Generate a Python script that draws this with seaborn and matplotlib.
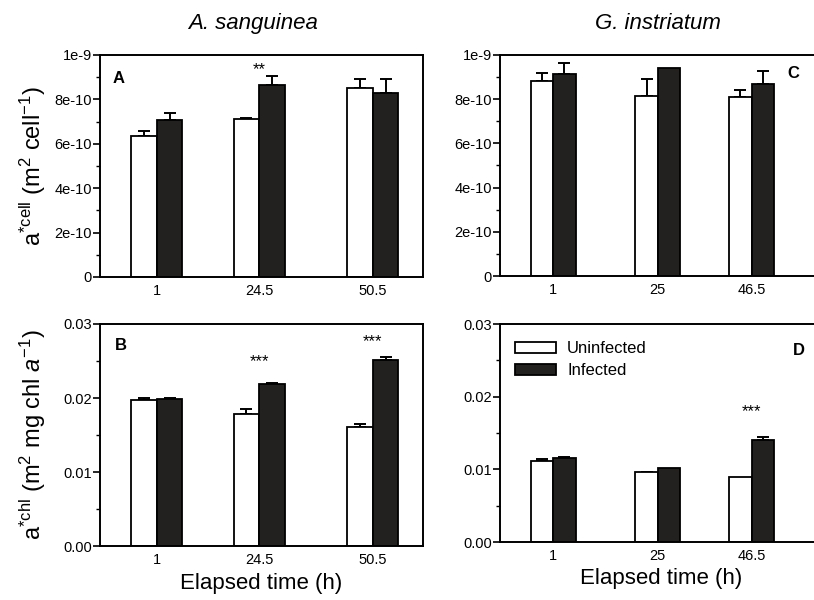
import matplotlib
matplotlib.use("Agg")
import numpy as np
import pandas as pd
import matplotlib.pyplot as plt
import seaborn as sns
from matplotlib.ticker import MultipleLocator, FixedLocator, FixedFormatter

# ---------------- data ----------------
groups = ["Uninfected", "Infected"]
times_as = [1, 24.5, 50.5]
times_gi = [1, 25, 46.5]
xlabels_as = ["1", "24.5", "50.5"]
xlabels_gi = ["1", "25", "46.5"]

# a*cell (m2 cell-1)
cell_as_uninf = [6.36e-10, 7.11e-10, 8.53e-10]
cell_as_inf = [7.05e-10, 8.63e-10, 8.30e-10]
cell_as_uninf_err = [0.23e-10, 0.06e-10, 0.39e-10]
cell_as_inf_err = [0.32e-10, 0.42e-10, 0.60e-10]
cell_gi_uninf = [8.84e-10, 8.15e-10, 8.09e-10]
cell_gi_inf = [9.14e-10, 9.41e-10, 8.69e-10]
cell_gi_uninf_err = [0.33e-10, 0.77e-10, 0.33e-10]
cell_gi_inf_err = [0.48e-10, 0.0, 0.59e-10]

# a*chl (m2 mg chl a-1)
chl_as_uninf = [0.0197, 0.0179, 0.0161]
chl_as_inf = [0.0198, 0.0219, 0.0251]
chl_as_uninf_err = [0.0003, 0.0006, 0.00045]
chl_as_inf_err = [0.0002, 0.0001, 0.0005]
chl_gi_uninf = [0.0112, 0.0096, 0.0089]
chl_gi_inf = [0.0115, 0.0102, 0.0140]
chl_gi_uninf_err = [0.0002, 0.0001, 0.0]
chl_gi_inf_err = [0.0002, 0.0, 0.00045]

# significance marks (time, text, y position)
sig_A = [(24.5, "**", 9.35e-10)]
sig_B = [(24.5, "***", 0.0249), (50.5, "***", 0.0276)]
sig_C = []
sig_D = [(46.5, "***", 0.0180)]

cell_ticks = [0, 2e-10, 4e-10, 6e-10, 8e-10, 1e-9]
cell_ticklabels = ["0", "2e-10", "4e-10", "6e-10", "8e-10", "1e-9"]
chl_ticks = [0, 0.01, 0.02, 0.03]
chl_ticklabels = ["0.00", "0.01", "0.02", "0.03"]

titles = ["A. sanguinea", "G. instriatum"]

# ---------------- style ----------------
sns.set_style("ticks")
plt.rcParams["font.family"] = ["Liberation Sans", "DejaVu Sans"]
plt.rcParams["mathtext.fontset"] = "custom"
plt.rcParams["mathtext.rm"] = "Liberation Sans"
plt.rcParams["mathtext.it"] = "Liberation Sans:italic"
plt.rcParams["axes.linewidth"] = 1.4
for k in ["text.color", "axes.labelcolor", "xtick.color", "ytick.color",
          "axes.edgecolor", "axes.titlecolor"]:
    plt.rcParams[k] = "black"

BLACK = "#231f20"
palette = {"Uninfected": "white", "Infected": BLACK}

fig = plt.figure(figsize=(8.14, 6.00), dpi=100)
W, H = 814, 600


def add_ax(left, top, right, bottom):
    return fig.add_axes([left / W, 1 - bottom / H, (right - left) / W, (bottom - top) / H])


axA = add_ax(100, 55, 423, 277)
axC = add_ax(500, 55, 823, 276)
axB = add_ax(100, 324, 423, 546)
axD = add_ax(500, 324, 823, 542)


def panel(ax, times, uninf, inf, uerr, ierr, width, xlim, ylim, ticks, ticklabels,
          minor, letter, letter_pos, letter_ha, sigs, xlabels):
    df = pd.DataFrame({
        "time": list(times) * 2,
        "group": [groups[0]] * len(times) + [groups[1]] * len(times),
        "value": list(uninf) + list(inf),
    })
    sns.barplot(data=df, x="time", y="value", hue="group", hue_order=groups,
                palette=palette, native_scale=True, width=width, errorbar=None,
                edgecolor="black", linewidth=1.3, legend=False, ax=ax, zorder=2)
    for cont, errs in zip(ax.containers, [uerr, ierr]):
        bars = sorted(cont.patches, key=lambda b: b.get_x())
        for bar, e in zip(bars, errs):
            if e <= 0:
                continue
            cx = bar.get_x() + bar.get_width() / 2
            ax.errorbar(cx, bar.get_height(), yerr=[[0], [e]], fmt="none",
                        ecolor="black", elinewidth=1.4, capsize=4, capthick=1.4,
                        zorder=1)
    ax.set_xlim(*xlim)
    ax.set_ylim(*ylim)
    ax.xaxis.set_major_locator(FixedLocator(times))
    ax.xaxis.set_major_formatter(FixedFormatter(xlabels))
    ax.yaxis.set_major_locator(FixedLocator(ticks))
    ax.yaxis.set_major_formatter(FixedFormatter(ticklabels))
    ax.yaxis.set_minor_locator(MultipleLocator(minor))
    ax.tick_params(axis="x", which="both", length=0, pad=5, labelsize=10.5, colors="black")
    ax.tick_params(axis="y", which="major", direction="out", length=5, width=1.2,
                   pad=1, labelsize=10.5, colors="black")
    ax.tick_params(axis="y", which="minor", direction="out", length=3, width=1.0)
    for s in ax.spines.values():
        s.set_visible(True)
        s.set_linewidth(1.4)
        s.set_color("black")
    ax.set_xlabel("")
    ax.set_ylabel("")
    ax.text(letter_pos[0], letter_pos[1], letter, transform=ax.transAxes,
            ha=letter_ha, va="top", fontsize=12, fontweight="bold")
    for t, s, y in sigs:
        ax.text(t, y, s, ha="center", va="center", fontsize=12)


panel(axA, times_as, cell_as_uninf, cell_as_inf, cell_as_uninf_err, cell_as_inf_err,
      0.50, (-12, 62), (0, 1e-9), cell_ticks, cell_ticklabels, 1e-10,
      "A", (0.04, 0.93), "left", sig_A, xlabels_as)
panel(axC, times_gi, cell_gi_uninf, cell_gi_inf, cell_gi_uninf_err, cell_gi_inf_err,
      0.48, (-11.2, 62.9), (0, 1e-9), cell_ticks, cell_ticklabels, 1e-10,
      "C", (0.925, 0.95), "right", sig_C, xlabels_gi)
panel(axB, times_as, chl_as_uninf, chl_as_inf, chl_as_uninf_err, chl_as_inf_err,
      0.50, (-12, 62), (0, 0.03), chl_ticks, chl_ticklabels, 0.005,
      "B", (0.045, 0.935), "left", sig_B, xlabels_as)
panel(axD, times_gi, chl_gi_uninf, chl_gi_inf, chl_gi_uninf_err, chl_gi_inf_err,
      0.48, (-11.2, 62.9), (0, 0.03), chl_ticks, chl_ticklabels, 0.005,
      "D", (0.945, 0.915), "right", sig_D, xlabels_gi)

# titles
axA.set_title(titles[0], style="italic", fontsize=16, pad=19, x=0.475)
axC.set_title(titles[1], style="italic", fontsize=16, pad=19, x=0.49)

# y labels
axA.set_ylabel(r"a$^{*\mathrm{cell}}$ (m$^2$ cell$^{-1}$)", fontsize=17)
axB.set_ylabel(r"a$^{*\mathrm{chl}}$ (m$^2$ mg chl $a^{-1}$)", fontsize=17)
axA.yaxis.set_label_coords(-0.16, 0.5)
axB.yaxis.set_label_coords(-0.16, 0.5)

# x labels
for ax in (axB, axD):
    ax.set_xlabel("Elapsed time (h)", fontsize=16)
    ax.xaxis.set_label_coords(0.5, -0.12)

# legend
cont = axD.containers
axD.legend(handles=[cont[0], cont[1]], labels=groups, loc="upper left",
           bbox_to_anchor=(0.045, 0.92), frameon=False, fontsize=12,
           handlelength=2.5, handleheight=0.6, handletextpad=0.65,
           labelspacing=0.4, borderpad=0, borderaxespad=0)

fig.savefig("out.png", dpi=100)
